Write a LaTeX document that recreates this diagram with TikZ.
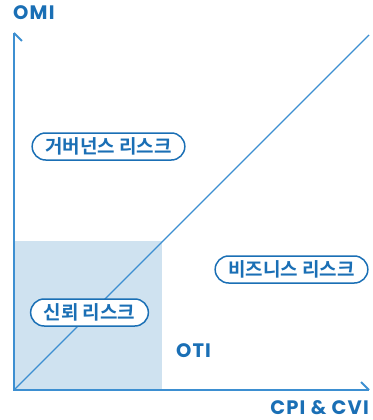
\documentclass[tikz,border=0pt]{standalone}
\usepackage{fontspec}
\newfontfamily\kr{Noto Sans CJK KR Bold}
\newfontfamily\lat{Poppins Bold}[LetterSpace=6]
\definecolor{axiscol}{HTML}{3D8FD1}
\definecolor{txtcol}{HTML}{1A6FB5}
\definecolor{shadecol}{HTML}{CFE2F0}
\tikzset{
  pill/.style={draw=txtcol, line width=1.5pt, rounded corners=13.5pt, fill=white, text=txtcol,
    font=\kr\fontsize{19}{19}\selectfont, minimum height=27pt, inner xsep=13pt, inner ysep=2pt},
  axlabel/.style={text=txtcol, font=\lat\fontsize{19.5}{19.5}\selectfont, inner sep=0pt},
  axline/.style={draw=axiscol, line width=1.8pt},
}
\begin{document}
\begin{tikzpicture}[x=1pt,y=-1pt]
\useasboundingbox (0,0) rectangle (372,420);
\fill[shadecol] (14,241) rectangle (162,390);
\coordinate (O) at (14,390);
\coordinate (Y) at (14,33);
\coordinate (X) at (369,390);
\coordinate (D) at (369,35);
\draw[axiscol, line width=1.4pt] (O) -- (D);
\draw[axline] (Y) -- (O) -- (X);
\draw[axline] (Y) -- ++(8,8);
\draw[axline] (X) -- ++(-8,-8);
\node[axlabel, anchor=base west] (omi) at (13,19.5) {OMI};
\node[axlabel, anchor=base east] (cpi) at (369,414.5) {CPI \& CVI};
\node[axlabel, anchor=base] (oti) at (193.5,357) {OTI};
\node[pill] (gov) at (108.5,146.5) {거버넌스 리스크};
\node[pill] (biz) at (291.5,269.5) {비즈니스 리스크};
\node[pill] (trust) at (89.5,312.5) {신뢰 리스크};
\end{tikzpicture}
\end{document}
